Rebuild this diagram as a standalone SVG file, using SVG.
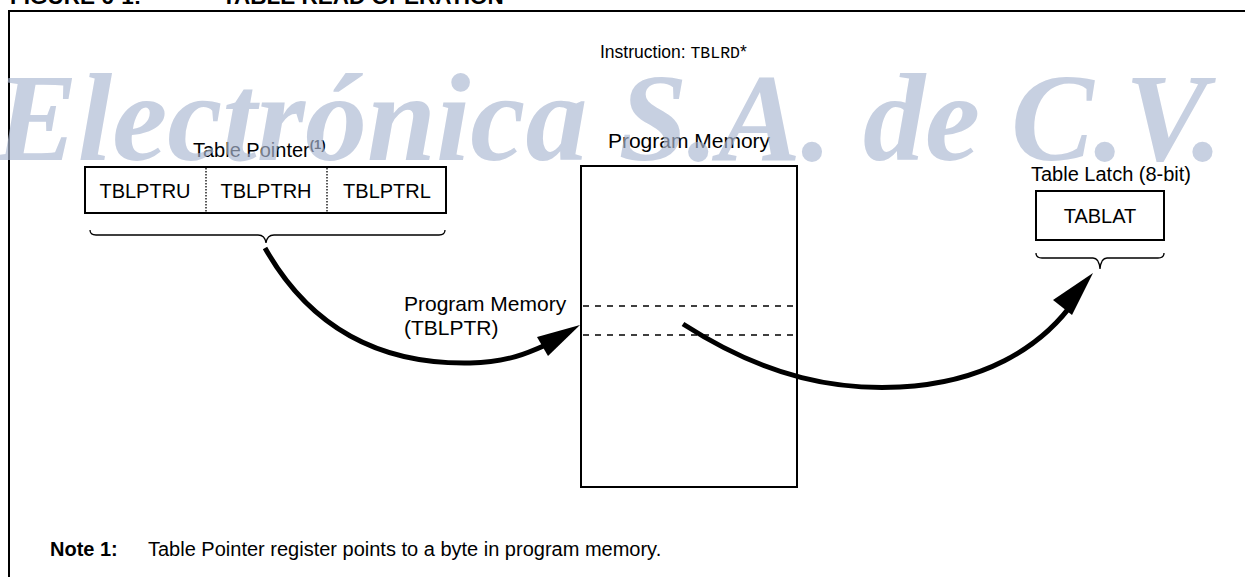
<svg xmlns="http://www.w3.org/2000/svg" width="1245" height="577" viewBox="0 0 1245 577">
<defs>
<style>
.t{font-family:"Liberation Sans",Arial,sans-serif;font-size:20px;fill:#000}
.h{font-family:"Liberation Sans",Arial,sans-serif;font-weight:bold;font-size:22.5px;fill:#000}
.m{font-family:"Liberation Mono","Courier New",monospace;font-size:16.5px;fill:#000}
.box{fill:#fff;stroke:#000;stroke-width:2}
.dot{stroke:#000;stroke-width:1.3;stroke-dasharray:1.5 1.5;fill:none}
.dash{stroke:#000;stroke-width:1.6;stroke-dasharray:6 6;fill:none}
.brace{fill:none;stroke:#000;stroke-width:1.3}
.arc{fill:none;stroke:#000;stroke-width:5}
.head{fill:#000}
.wm{font-family:"Liberation Serif","Times New Roman",serif;font-weight:bold;font-style:italic;font-size:124px;fill:#acb9d3;opacity:0.667}
</style>
</defs>
<rect width="1245" height="577" fill="#fff"/>
<text class="h" x="10" y="4">FIGURE 6-1:</text>
<text class="h" x="222" y="4">TABLE READ OPERATION</text>
<path d="M9 577 V11 H1245" fill="none" stroke="#000" stroke-width="2"/>
<text class="t" x="600" y="58" style="font-size:17.5px">Instruction: <tspan class="m">TBLRD</tspan>*</text>
<g id="table-pointer">
<text class="t" x="193" y="157">Table Pointer<tspan font-size="13" font-weight="bold" dy="-8">(1)</tspan></text>
<rect class="box" x="85" y="167" width="361" height="46"/>
<line class="dot" x1="206" y1="168" x2="206" y2="212"/>
<line class="dot" x1="327" y1="168" x2="327" y2="212"/>
<text class="t" x="145" y="198" text-anchor="middle">TBLPTRU</text>
<text class="t" x="266" y="198" text-anchor="middle">TBLPTRH</text>
<text class="t" x="387" y="198" text-anchor="middle">TBLPTRL</text>
<path class="brace" d="M90 230 Q90 235 96 235 H258 Q265 235 266 243 Q267 235 274 235 H439 Q445 235 445 230"/>
</g>
<g id="program-memory">
<text class="t" x="689" y="148" text-anchor="middle" style="font-size:21px">Program Memory</text>
<rect class="box" x="581" y="166" width="216" height="321"/>
<line class="dash" x1="583" y1="306" x2="795" y2="306"/>
<line class="dash" x1="583" y1="335" x2="795" y2="335"/>
<text class="t" x="404" y="311" style="font-size:21px">Program Memory</text>
<text class="t" x="404" y="335" style="font-size:21px">(TBLPTR)</text>
</g>
<g id="table-latch">
<text class="t" x="1111" y="181" text-anchor="middle">Table Latch (8-bit)</text>
<rect class="box" x="1036" y="191" width="128" height="49"/>
<text class="t" x="1100" y="223" text-anchor="middle">TABLAT</text>
<path class="brace" d="M1036 253 Q1036 258 1042 258 H1093 Q1099 258 1100 269 Q1101 258 1107 258 H1158 Q1164 258 1164 253"/>
</g>
<g id="connectors">
<path class="arc" d="M265 248 C300 310 360 365 470 363 C510 362 530 352 550 343"/>
<polygon class="head" points="580,325 537,337 548,356"/>
<path class="arc" d="M683 324 C770 380 840 390 900 387 C980 383 1040 350 1075 300"/>
<polygon class="head" points="1093,273 1053,300 1072,315"/>
</g>
<text x="50" y="556" class="t" style="font-weight:bold">Note 1:</text>
<text class="t" x="148" y="556">Table Pointer register points to a byte in program memory.</text>
<text class="wm" x="-5" y="160">Electrónica S.A. de C.V.</text>
</svg>
